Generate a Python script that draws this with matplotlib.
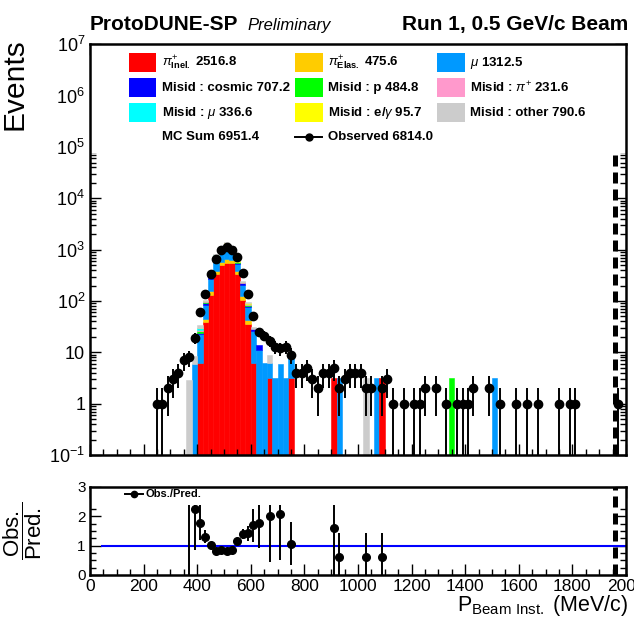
import numpy as np
import matplotlib
matplotlib.use("Agg")
import matplotlib.pyplot as plt
from matplotlib.patches import Rectangle
from matplotlib.lines import Line2D
from matplotlib.ticker import MultipleLocator, LogLocator, NullFormatter

plt.rcParams['font.family'] = ['Liberation Sans', 'DejaVu Sans']
plt.rcParams['mathtext.fontset'] = 'custom'
plt.rcParams['mathtext.rm'] = 'Liberation Sans'
plt.rcParams['mathtext.it'] = 'Liberation Sans:italic'
plt.rcParams['mathtext.bf'] = 'Liberation Sans:bold'

# ---- MC stack, 20 MeV bins from 360 to 760 MeV/c (lower edges) ----
core_lo = np.arange(360, 760, 20)
mc_inel   = [0, 0, 6.2, 39, 130, 330, 500, 560, 540, 330, 107, 36, 6.2, 0, 0, 3.1, 0, 0, 0, 3.1]
mc_elas   = [0, 0, 0, 6, 25, 50, 80, 90, 80, 50, 20, 6, 0, 0, 0, 0, 0, 0, 0, 0]
mc_mu     = [0, 6.0, 16.5, 40, 110, 260, 350, 440, 320, 135, 75, 33, 20, 11, 6.2, 3.0, 3.1, 6.0, 3.1, 5.5]
mc_cosmic = [0, 0, 1, 6, 25, 70, 95, 120, 90, 38, 18, 6, 2, 3, 0, 0, 0, 0, 0, 0]
mc_p      = [0, 0, 2, 4, 12, 30, 40, 50, 40, 16, 8, 3, 0, 0, 0, 0, 0, 0, 0, 0]
mc_mispi  = [0, 0, 2, 3, 8, 20, 28, 35, 26, 11, 6, 3, 0, 0, 0, 0, 0, 0, 0, 0]
mc_mismu  = [0, 0, 2, 2, 6, 15, 20, 25, 18, 8, 4, 2, 0, 0, 0, 0, 0, 0, 0, 0]
mc_eg     = [0, 0, 0.5, 1, 3, 6, 8, 10, 8, 3, 2, 1, 0, 0, 0, 0, 0, 0, 0, 0]
mc_other  = [2.9, 2.6, 4, 4, 14, 30, 42, 57, 41, 18, 10, 6, 2.9, 0, 0, 2.6, 0, 0, 0, 0]

# isolated MC bars in the tail
tail_lo = [900, 920, 1020, 1060, 1080, 1340, 1500]
tail_comp = ['inel', 'mu', 'other', 'mu', 'inel', 'p', 'mu']
tail_val = [3.1, 3.1, 3.1, 3.1, 3.1, 3.1, 3.1]

# ---- observed counts (lower bin edge, count) ----
obs_lo = [240, 260, 280, 300, 320, 340, 360, 380, 400, 420, 440, 460, 480, 500, 520, 540,
          560, 580, 600, 620, 640, 660, 680, 700, 720, 740, 760, 780, 800, 820, 840, 860,
          880, 900, 920, 940, 960, 980, 1000, 1020, 1040, 1080, 1100, 1120, 1160, 1200,
          1220, 1240, 1280, 1320, 1360, 1380, 1400, 1420, 1480, 1520, 1580, 1620, 1660,
          1740, 1780, 1800, 1960]
obs_n = [1, 1, 2, 3, 4, 7, 8, 19, 60, 137, 340, 665, 1000, 1137, 1000, 707,
         350, 137, 52, 25, 21, 17, 13, 12, 13, 9, 4, 4, 5, 3, 2, 4,
         4, 5, 2, 3, 4, 4, 4, 2, 2, 2, 3, 1, 1, 1,
         1, 2, 2, 1, 1, 1, 1, 2, 2, 1, 1, 1, 1,
         1, 1, 1, 1]

# ---- ratio panel ----
ratio_lo = [360, 380, 400, 420, 440, 460, 480, 500, 520, 540, 560, 580, 600, 620, 660, 700,
            740, 900, 920, 1020, 1080]
ratio_val = [2.8, 2.24, 1.78, 1.31, 1.02, 0.82, 0.86, 0.82, 0.86, 1.16, 1.40, 1.42, 1.70,
             1.77, 2.02, 2.07, 1.07, 1.59, 0.62, 0.62, 0.62]
ratio_err = [2.8, 1.39, 0.59, 0.22, 0.07, 0.04, 0.03, 0.03, 0.03, 0.08, 0.17, 0.26, 0.56,
             0.86, 1.57, 1.57, 0.73, 1.6, 0.8, 0.8, 0.8]

labels = [r'$\pi^{+}_{\mathbf{Inel.}}$ 2516.8', r'$\pi^{+}_{\mathbf{Elas.}}$ 475.6',
          r'$\mu$ 1312.5', 'Misid : cosmic 707.2', 'Misid : p 484.8',
          r'Misid : $\pi^{+}$ 231.6', r'Misid : $\mu$ 336.6',
          r'Misid : e/$\gamma$ 95.7', 'Misid : other 790.6']
colors = ['#ff0000', '#ffcc00', '#0099ff', '#0000ff', '#00ff00',
          '#ff99cc', '#00ffff', '#ffff00', '#cccccc']
comp_color = {'inel': '#ff0000', 'mu': '#0099ff', 'other': '#cccccc', 'p': '#00ff00'}

W, H = 634, 621


def fx(px):
    return px / W


def fy(py):
    return 1 - py / H


fig = plt.figure(figsize=(W / 100, H / 100), dpi=100)
ax = fig.add_axes([fx(90), fy(455), (626 - 90) / W, (455 - 44.4) / H])
rax = fig.add_axes([fx(90), fy(575), (626 - 90) / W, (575 - 487) / H])

# stacked MC
stack = [mc_inel, mc_elas, mc_mu, mc_cosmic, mc_p, mc_mispi, mc_mismu, mc_eg, mc_other]
bottom = np.zeros(len(core_lo))
for vals, c in zip(stack, colors):
    vals = np.asarray(vals, float)
    m = vals > 0
    ax.bar(core_lo[m], vals[m], width=20, bottom=bottom[m], align='edge',
           color=c, edgecolor=c, linewidth=0.4, zorder=1)
    bottom = bottom + vals
for lo, comp, v in zip(tail_lo, tail_comp, tail_val):
    ax.bar(lo, v, width=20, align='edge', color=comp_color[comp],
           edgecolor=comp_color[comp], linewidth=0.4, zorder=1)

# data
obs_c = np.asarray(obs_lo, float) + 10
n = np.asarray(obs_n, float)
err = np.sqrt(n)
lo_end = np.maximum(n - err, 0.02)
ax.errorbar(obs_c, n, yerr=[n - lo_end, err], fmt='o', color='k', ms=6,
            elinewidth=1.4, capsize=0, zorder=2.3)

ax.axvline(1960, color='k', ls=(0, (2.2, 1.2)), lw=3.6, zorder=2)
ax.add_patch(Rectangle((0, 0.735), 1, 0.265, transform=ax.transAxes,
                       facecolor='white', edgecolor='none', zorder=2.2))

ax.set_yscale('log')
ax.set_xlim(0, 2000)
ax.xaxis.set_major_locator(MultipleLocator(200))
ax.xaxis.set_minor_locator(MultipleLocator(50))
ax.set_xticklabels([])
ax.yaxis.set_minor_locator(LogLocator(base=10, subs=np.arange(2, 10), numticks=20))
ax.yaxis.set_minor_formatter(NullFormatter())
ydec = [1e-1, 1, 10, 1e2, 1e3, 1e4, 1e5, 1e6, 1e7]
ax.set_yticks(ydec)
ax.set_yticklabels([r'$\mathregular{10^{-1}}$', '1', '10', r'$\mathregular{10^{2}}$',
                    r'$\mathregular{10^{3}}$', r'$\mathregular{10^{4}}$',
                    r'$\mathregular{10^{5}}$', r'$\mathregular{10^{6}}$',
                    r'$\mathregular{10^{7}}$'], fontsize=13)
ax.set_ylim(0.1, 1e7)

# ratio
rc = np.asarray(ratio_lo, float) + 10
rax.hlines(1, 40, 2000, color='blue', lw=1.5, zorder=2)
rax.errorbar(rc, ratio_val, yerr=ratio_err, fmt='o', color='k', ms=5.5,
             elinewidth=1.4, capsize=0, zorder=2.1)
rax.add_patch(Rectangle((0, 0.8), 1, 0.2, transform=rax.transAxes,
                        facecolor='white', edgecolor='none', zorder=2.2))
rax.axvline(1960, color='k', ls=(0, (2.2, 1.2)), lw=3.6, zorder=2.3)
rax.set_xlim(0, 2000)
rax.set_ylim(0, 3)
rax.xaxis.set_major_locator(MultipleLocator(200))
rax.xaxis.set_minor_locator(MultipleLocator(50))
rax.yaxis.set_major_locator(MultipleLocator(1))
rax.yaxis.set_minor_locator(MultipleLocator(0.25))
rax.tick_params(axis='x', labelsize=12.5, pad=3)
rax.tick_params(axis='y', labelsize=11, pad=3)

for a in (ax, rax):
    a.tick_params(which='both', direction='in', top=True, right=True, width=1.0)
    a.tick_params(which='major', length=8)
    a.tick_params(which='minor', length=4)
    for s in a.spines.values():
        s.set_linewidth(1.8)

# titles
fig.text(fx(90), fy(30), 'ProtoDUNE-SP', fontsize=15, fontweight='bold', va='baseline')
fig.text(fx(247), fy(30), 'Preliminary', fontsize=12, fontstyle='italic', va='baseline')
fig.text(fx(628), fy(30), 'Run 1, 0.5 GeV/c Beam', fontsize=15, fontweight='bold',
         ha='right', va='baseline')

# legend of main panel
box_x = [128.6, 294.8, 437.0]
text_x = [161.7, 327.5, 470.0]
row_y = [63, 88, 113, 137]
for i, (lab, c) in enumerate(zip(labels, colors)):
    col, row = i % 3, i // 3
    fig.add_artist(Rectangle((fx(box_x[col]), fy(row_y[row] + 9)), 27.7 / W, 18.5 / H,
                             transform=fig.transFigure, facecolor=c, edgecolor='none'))
    fig.text(fx(text_x[col]), fy(row_y[row]), lab, fontsize=9.5, fontweight='bold',
             va='center')
fig.text(fx(text_x[0]), fy(row_y[3]), 'MC Sum 6951.4', fontsize=9.5, fontweight='bold',
         va='center')
fig.add_artist(Line2D([fx(box_x[1]), fx(box_x[1] + 27.7)], [fy(row_y[3])] * 2,
                      transform=fig.transFigure, color='k', lw=1.4))
fig.add_artist(Line2D([fx(box_x[1] + 13.8)], [fy(row_y[3])], transform=fig.transFigure,
                      color='k', marker='o', ms=5))
fig.text(fx(text_x[1]), fy(row_y[3]), 'Observed 6814.0', fontsize=9.5, fontweight='bold',
         va='center')

# ratio legend
fig.add_artist(Line2D([fx(125), fx(143)], [fy(494)] * 2, transform=fig.transFigure,
                      color='k', lw=1.4))
fig.add_artist(Line2D([fx(134)], [fy(494)], transform=fig.transFigure, color='k',
                      marker='o', ms=4.5))
fig.text(fx(146), fy(494), 'Obs./Pred.', fontsize=8, fontweight='bold', va='center')

# axis titles
fig.text(fx(15), fy(38), 'Events', fontsize=21.5, rotation=90, ha='center', va='top')
fig.text(fx(23), fy(531), r'$\dfrac{\mathrm{Obs.}}{\mathrm{Pred.}}$', fontsize=16,
         rotation=90, ha='center', va='center')
fig.text(fx(628), fy(611), r'$\mathregular{P_{Beam\ Inst.}}$ (MeV/c)', fontsize=15.5,
         ha='right', va='baseline')

fig.savefig('out.png', dpi=100)
